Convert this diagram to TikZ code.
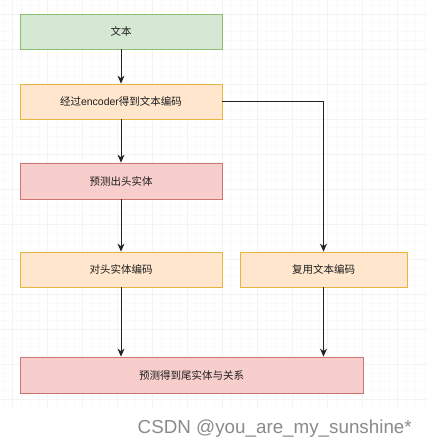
\documentclass[tikz,border=0pt]{standalone}
\usepackage{fontspec}
\setmainfont{Liberation Sans}
\newfontfamily\cjk{Noto Sans CJK SC}
\usetikzlibrary{arrows.meta}
\definecolor{gfill}{HTML}{D5E8D4}
\definecolor{gline}{HTML}{8DBF72}
\definecolor{ofill}{HTML}{FFE6CC}
\definecolor{oline}{HTML}{E6B440}
\definecolor{rfill}{HTML}{F8CECC}
\definecolor{rline}{HTML}{CC7572}
\definecolor{txt}{HTML}{1E1E1E}
\definecolor{gridminor}{HTML}{FAFAFA}
\definecolor{gridmajor}{HTML}{F3F3F3}
\definecolor{wm}{HTML}{8A8A8A}
\definecolor{arr}{HTML}{222222}
\tikzset{
  boxbase/.style={rectangle, line width=0.8pt, inner sep=0pt, text=txt,
    font=\fontsize{10.5}{12}\selectfont\cjk},
  greenbox/.style={boxbase, fill=gfill, draw=gline},
  orangebox/.style={boxbase, fill=ofill, draw=oline},
  redbox/.style={boxbase, fill=rfill, draw=rline},
  flow/.style={draw=arr, line width=0.8pt, -{Stealth[length=8pt,width=7pt]}},
}
\begin{document}
\begin{tikzpicture}[x=1pt,y=-1pt]
\useasboundingbox (0,0) rectangle (427,446);
\fill[white] (0,0) rectangle (427,446);
% grid
\foreach \k in {0,...,48} {
  \pgfmathsetmacro{\xx}{3.95+\k*8.75}
  \pgfmathtruncatemacro{\m}{mod(\k,4)}
  \ifnum\m=1
    \draw[gridmajor, line width=0.5pt] (\xx,0) -- (\xx,407);
  \else
    \draw[gridminor, line width=0.5pt] (\xx,0) -- (\xx,407);
  \fi
}
\foreach \k in {0,...,45} {
  \pgfmathsetmacro{\yy}{5.25+\k*8.75}
  \pgfmathtruncatemacro{\m}{mod(\k,4)}
  \ifnum\m=1
    \draw[gridmajor, line width=0.5pt] (0,\yy) -- (427,\yy);
  \else
    \draw[gridminor, line width=0.5pt] (0,\yy) -- (427,\yy);
  \fi
}
% boxes
\node[greenbox, minimum width=202pt, minimum height=35pt] (t) at (121,31.5) {文本};
\node[orangebox, minimum width=202pt, minimum height=35pt] (enc) at (121,101.5) {经过{\fontspec{Liberation Sans}encoder}得到文本编码};
\node[redbox, minimum width=202pt, minimum height=36pt] (head) at (121,181) {预测出头实体};
\node[orangebox, minimum width=202pt, minimum height=35pt] (hcode) at (121,269.5) {对头实体编码};
\node[orangebox, minimum width=167pt, minimum height=35pt] (reuse) at (323.5,269.5) {复用文本编码};
\node[redbox, minimum width=343pt, minimum height=36pt] (tail) at (191.5,375) {预测得到尾实体与关系};
% connectors
\draw[flow] (t) -- (enc);
\draw[flow] (enc) -- (head);
\draw[flow] (head) -- (hcode);
\draw[flow] (enc.east) -| (reuse.north);
\draw[flow] (hcode.south) -- (hcode.south |- tail.north);
\draw[flow] (reuse.south) -- (reuse.south |- tail.north);
% watermark
\node[anchor=base east, inner sep=0pt, text=wm, font=\fontsize{18.8}{20}\selectfont] (wmk) at (412,433.3) {CSDN @you\_are\_my\_sunshine*};
\end{tikzpicture}
\end{document}
